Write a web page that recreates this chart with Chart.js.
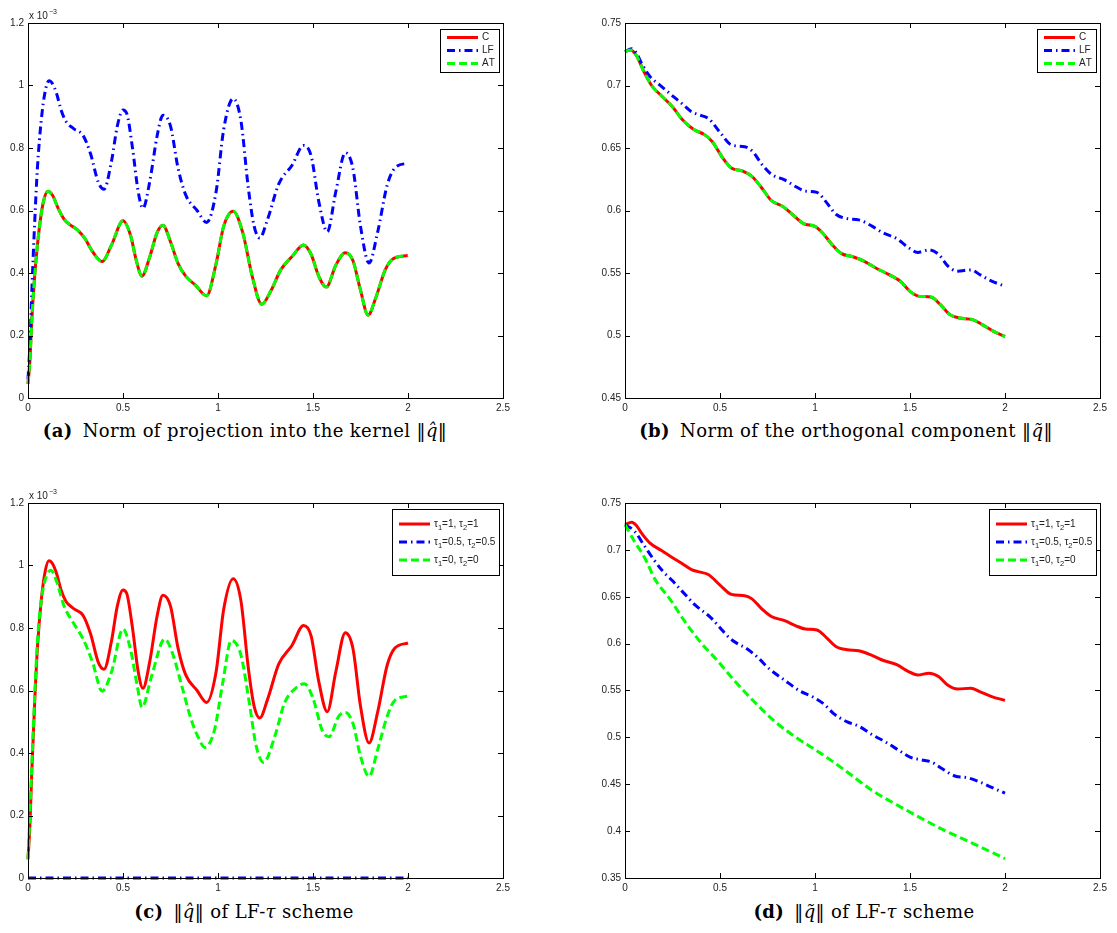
<!DOCTYPE html>
<html>
<head>
<meta charset="utf-8">
<script src="https://cdn.jsdelivr.net/npm/chart.js@4.4.1/dist/chart.umd.min.js"></script>
<style>
  body { margin: 0; background: #fff; width: 1117px; height: 933px; position: relative; overflow: hidden; }
  canvas { position: absolute; }
  .cap { position: absolute; font-family: "DejaVu Serif", serif; font-size: 18px; letter-spacing: 0.4px; color: #000; white-space: nowrap; transform: translateX(-50%); }
  .cap b { margin-right: 10px; }
</style>
</head>
<body>
<canvas id="panelA" width="520" height="420" style="left:0;top:0"></canvas>
<canvas id="panelB" width="520" height="420" style="left:597px;top:0"></canvas>
<canvas id="panelC" width="520" height="420" style="left:0;top:480px"></canvas>
<canvas id="panelD" width="520" height="420" style="left:597px;top:480px"></canvas>

<div class="cap" style="left:245px;top:420px"><b>(a)</b>Norm of projection into the kernel ‖<i>q̂</i>‖</div>
<div class="cap" style="left:846px;top:420px"><b>(b)</b>Norm of the orthogonal component ‖<i>q̃</i>‖</div>
<div class="cap" style="left:244px;top:901px"><b>(c)</b>‖<i>q̂</i>‖ of LF-<i>τ</i> scheme</div>
<div class="cap" style="left:864px;top:901px"><b>(d)</b>‖<i>q̃</i>‖ of LF-<i>τ</i> scheme</div>

<script>
// ── tick labels ──
const timeTicks = [0, 0.5, 1, 1.5, 2, 2.5];
const kernelTicks = [0, 0.2, 0.4, 0.6, 0.8, 1, 1.2];          // x 10^-3
const orthTicks = [0.45, 0.5, 0.55, 0.6, 0.65, 0.7, 0.75];
const tauOrthTicks = [0.35, 0.4, 0.45, 0.5, 0.55, 0.6, 0.65, 0.7, 0.75];

// ── (a) norm of projection into the kernel, x 10^-3 ──
const kernelC_t = [0, 0.01, 0.02, 0.035, 0.055, 0.08, 0.105, 0.13, 0.16, 0.19, 0.22, 0.26, 0.3, 0.34, 0.39, 0.44, 0.5, 0.54, 0.57, 0.6, 0.64, 0.68, 0.71, 0.75, 0.79, 0.83, 0.88, 0.94, 0.99, 1.03, 1.08, 1.13, 1.18, 1.23, 1.28, 1.33, 1.39, 1.45, 1.49, 1.53, 1.57, 1.62, 1.67, 1.71, 1.75, 1.79, 1.83, 1.88, 1.92, 2.0];
const kernelC = [0.045, 0.12, 0.25, 0.39, 0.52, 0.625, 0.662, 0.648, 0.605, 0.572, 0.555, 0.538, 0.51, 0.468, 0.437, 0.49, 0.567, 0.52, 0.44, 0.39, 0.45, 0.53, 0.553, 0.5, 0.43, 0.39, 0.362, 0.327, 0.43, 0.55, 0.598, 0.53, 0.39, 0.3, 0.345, 0.41, 0.453, 0.49, 0.46, 0.39, 0.355, 0.425, 0.465, 0.44, 0.345, 0.265, 0.32, 0.41, 0.445, 0.456];
const kernelAT = kernelC; // AT lies on top of C
const kernelLF_t = [0, 0.01, 0.02, 0.035, 0.05, 0.07, 0.09, 0.11, 0.13, 0.15, 0.175, 0.2, 0.24, 0.29, 0.33, 0.37, 0.4, 0.44, 0.47, 0.5, 0.52, 0.55, 0.58, 0.605, 0.64, 0.68, 0.71, 0.75, 0.79, 0.83, 0.89, 0.94, 0.99, 1.03, 1.08, 1.12, 1.16, 1.19, 1.22, 1.26, 1.32, 1.39, 1.45, 1.49, 1.53, 1.575, 1.62, 1.67, 1.71, 1.75, 1.795, 1.84, 1.89, 1.93, 2.0];
const kernelLF = [0.06, 0.17, 0.34, 0.56, 0.74, 0.89, 0.98, 1.015, 1.005, 0.975, 0.92, 0.885, 0.862, 0.84, 0.78, 0.69, 0.668, 0.76, 0.87, 0.922, 0.91, 0.8, 0.66, 0.607, 0.69, 0.84, 0.905, 0.87, 0.735, 0.65, 0.6, 0.562, 0.66, 0.86, 0.958, 0.89, 0.67, 0.55, 0.512, 0.57, 0.685, 0.745, 0.808, 0.775, 0.63, 0.532, 0.66, 0.785, 0.735, 0.55, 0.432, 0.53, 0.68, 0.735, 0.752];

// ── (b) norm of the orthogonal component ──
const orthC_t = [0, 0.03, 0.06, 0.1, 0.14, 0.19, 0.25, 0.3, 0.36, 0.42, 0.46, 0.51, 0.56, 0.62, 0.67, 0.72, 0.77, 0.83, 0.88, 0.94, 1.0, 1.04, 1.09, 1.14, 1.2, 1.26, 1.32, 1.39, 1.45, 1.5, 1.55, 1.61, 1.66, 1.71, 1.76, 1.83, 1.88, 1.94, 2.0];
const orthC = [0.727, 0.7285, 0.724, 0.711, 0.7, 0.692, 0.683, 0.673, 0.665, 0.6605, 0.655, 0.643, 0.634, 0.6315, 0.627, 0.618, 0.608, 0.6033, 0.597, 0.5895, 0.5873, 0.582, 0.5727, 0.5655, 0.563, 0.5593, 0.554, 0.5487, 0.5433, 0.5353, 0.5313, 0.5308, 0.5247, 0.5167, 0.514, 0.5127, 0.5087, 0.5033, 0.4993];
const orthAT = orthC; // AT lies on top of C
const orthLF_t = [0, 0.035, 0.06, 0.09, 0.13, 0.19, 0.24, 0.3, 0.35, 0.39, 0.44, 0.5, 0.56, 0.63, 0.67, 0.72, 0.77, 0.84, 0.9, 0.95, 1.01, 1.06, 1.11, 1.17, 1.23, 1.3, 1.36, 1.43, 1.49, 1.54, 1.6, 1.65, 1.7, 1.75, 1.82, 1.87, 1.93, 2.0];
const orthLF = [0.727, 0.7295, 0.726, 0.717, 0.7075, 0.6995, 0.693, 0.6855, 0.679, 0.6765, 0.6735, 0.6625, 0.6525, 0.651, 0.6475, 0.637, 0.629, 0.6245, 0.619, 0.6155, 0.6145, 0.6065, 0.597, 0.5935, 0.5925, 0.5875, 0.582, 0.5775, 0.5705, 0.5665, 0.5685, 0.565, 0.5555, 0.5515, 0.5525, 0.5485, 0.5435, 0.5395];

// ── (c) LF-tau, kernel part (tau=1 is the LF curve of (a)) ──
const tauHalfKernel_t = [0, 0.5, 1, 1.5, 2];
const tauHalfKernel = [0, 0, 0, 0, 0];
const tauZeroKernel_t = [0, 0.01, 0.02, 0.035, 0.05, 0.075, 0.1, 0.12, 0.15, 0.19, 0.24, 0.29, 0.34, 0.39, 0.44, 0.5, 0.54, 0.575, 0.6, 0.65, 0.72, 0.76, 0.81, 0.86, 0.9, 0.93, 0.98, 1.025, 1.07, 1.12, 1.165, 1.2, 1.24, 1.3, 1.35, 1.41, 1.455, 1.5, 1.55, 1.585, 1.635, 1.67, 1.71, 1.75, 1.795, 1.84, 1.89, 1.93, 2.0];
const tauZeroKernel = [0.06, 0.2, 0.36, 0.58, 0.76, 0.91, 0.97, 0.985, 0.95, 0.87, 0.815, 0.765, 0.69, 0.598, 0.66, 0.797, 0.73, 0.615, 0.546, 0.645, 0.765, 0.72, 0.613, 0.505, 0.445, 0.418, 0.47, 0.625, 0.76, 0.715, 0.56, 0.425, 0.37, 0.455, 0.56, 0.608, 0.622, 0.575, 0.47, 0.452, 0.517, 0.53, 0.495, 0.39, 0.325, 0.41, 0.517, 0.568, 0.582];

// ── (d) LF-tau, orthogonal part (tau=1 is the LF curve of (b)) ──
const tauHalfOrth_t = [0, 0.05, 0.1, 0.15, 0.2, 0.25, 0.3, 0.37, 0.45, 0.5, 0.55, 0.6, 0.63, 0.7, 0.76, 0.84, 0.92, 0.99, 1.05, 1.1, 1.17, 1.23, 1.3, 1.38, 1.45, 1.5, 1.56, 1.61, 1.67, 1.74, 1.8, 1.86, 1.92, 2.0];
const tauHalfOrth = [0.727, 0.72, 0.705, 0.69, 0.677, 0.667, 0.656, 0.641, 0.628, 0.617, 0.606, 0.599, 0.596, 0.585, 0.573, 0.561, 0.5495, 0.543, 0.535, 0.525, 0.5165, 0.512, 0.503, 0.494, 0.485, 0.479, 0.476, 0.474, 0.4665, 0.4585, 0.457, 0.453, 0.4475, 0.4405];
const tauZeroOrth_t = [0, 0.05, 0.1, 0.16, 0.24, 0.31, 0.4, 0.49, 0.58, 0.68, 0.79, 0.9, 1.03, 1.15, 1.3, 1.48, 1.66, 1.83, 2.0];
const tauZeroOrth = [0.727, 0.709, 0.693, 0.668, 0.6465, 0.625, 0.601, 0.581, 0.5595, 0.538, 0.5167, 0.5, 0.483, 0.466, 0.4435, 0.4225, 0.403, 0.387, 0.3707];

// ── matlab-ish look ──
Chart.defaults.font.family = "'Liberation Sans', Arial, sans-serif";
Chart.defaults.font.size = 10;
Chart.defaults.color = '#222';

const RED = '#ff0000', BLUE = '#0000ff', GREEN = '#00ff00';
const SOLID = [], DASHDOT = [8, 4, 1.5, 4], DASHED = [8, 4];

const pts = (t, v) => t.map((x, i) => ({ x, y: v[i] }));

// draws "a_1" with the char after '_' as a subscript, returns the width
function richText(ctx, text, x, y, size, draw) {
  let w = 0;
  for (let i = 0; i < text.length; i++) {
    let ch = text[i], sub = false;
    if (ch === '_' && i + 1 < text.length) { ch = text[++i]; sub = true; }
    const fs = sub ? size * 0.75 : size;
    ctx.font = fs + "px 'Liberation Sans', Arial, sans-serif";
    if (draw) ctx.fillText(ch, x + w, y + (sub ? size * 0.38 : 0));
    w += ctx.measureText(ch).width;
  }
  return w;
}

// box, inward ticks on all sides, exponent label
const matlabFrame = {
  id: 'matlabFrame',
  afterDatasetsDraw(chart, args, opts) {
    const { ctx, chartArea: a, scales: { x, y } } = chart;
    ctx.save();
    ctx.strokeStyle = '#000';
    ctx.lineWidth = 1;
    ctx.beginPath();
    x.ticks.forEach(t => {
      const px = Math.round(x.getPixelForValue(t.value)) + 0.5;
      ctx.moveTo(px, a.bottom); ctx.lineTo(px, a.bottom - 5);
      ctx.moveTo(px, a.top); ctx.lineTo(px, a.top + 5);
    });
    y.ticks.forEach(t => {
      const py = Math.round(y.getPixelForValue(t.value)) + 0.5;
      ctx.moveTo(a.left, py); ctx.lineTo(a.left + 5, py);
      ctx.moveTo(a.right, py); ctx.lineTo(a.right - 5, py);
    });
    ctx.stroke();
    ctx.strokeRect(Math.round(a.left) + 0.5, Math.round(a.top) + 0.5,
                   Math.round(a.right - a.left), Math.round(a.bottom - a.top));
    if (opts.expo) {
      ctx.fillStyle = '#222';
      ctx.textBaseline = 'alphabetic';
      ctx.font = "10px 'Liberation Sans', Arial, sans-serif";
      ctx.fillText('x 10', a.left + 1, a.top - 4);
      const w = ctx.measureText('x 10').width;
      ctx.font = "7px 'Liberation Sans', Arial, sans-serif";
      ctx.fillText('\u22123', a.left + 2 + w, a.top - 9);
    }
    ctx.restore();
  }
};

// legend box inside the top-right corner
const boxLegend = {
  id: 'boxLegend',
  afterDraw(chart, args, opts) {
    const { ctx, chartArea: a } = chart;
    const items = opts.entries.map(i => chart.data.datasets[i]);
    ctx.save();
    ctx.textBaseline = 'middle';
    const textW = Math.max(...items.map(d => richText(ctx, d.label, 0, 0, 10, false)));
    const w = Math.round(7 + 31 + 4 + textW + 4);
    const h = items.length * opts.rowH + opts.padY * 2;
    const left = Math.round(a.right - 4 - w), top = Math.round(a.top + 6);
    ctx.fillStyle = '#fff';
    ctx.fillRect(left, top, w, h);
    ctx.strokeStyle = '#000';
    ctx.lineWidth = 1;
    ctx.strokeRect(left + 0.5, top + 0.5, w, h);
    items.forEach((d, i) => {
      const cy = top + opts.padY + opts.rowH * (i + 0.5);
      ctx.beginPath();
      ctx.setLineDash(d.borderDash || []);
      ctx.strokeStyle = d.borderColor;
      ctx.lineWidth = d.borderWidth;
      ctx.moveTo(left + 7, cy);
      ctx.lineTo(left + 38, cy);
      ctx.stroke();
      ctx.setLineDash([]);
      ctx.fillStyle = '#222';
      richText(ctx, d.label, left + 42, cy, 10, true);
    });
    ctx.restore();
  }
};

function series(label, t, v, color, dash, order) {
  return {
    label, data: pts(t, v),
    borderColor: color, backgroundColor: color, borderWidth: 3, borderDash: dash,
    borderCapStyle: 'butt', pointRadius: 0, showLine: true,
    cubicInterpolationMode: 'monotone', clip: false, order
  };
}

function makePanel(id, datasets, yMin, yMax, yTicks, legend, expo) {
  new Chart(document.getElementById(id), {
    type: 'scatter',
    data: { datasets },
    options: {
      responsive: false,
      animation: false,
      events: [],
      layout: { padding: { top: 23, right: 17, left: 0, bottom: 0 } },
      plugins: {
        legend: { display: false },
        tooltip: { enabled: false },
        boxLegend: legend,
        matlabFrame: { expo }
      },
      scales: {
        x: {
          type: 'linear', min: 0, max: 2.5,
          afterBuildTicks: s => { s.ticks = timeTicks.map(value => ({ value })); },
          afterFit: s => { s.height = 22; },
          grid: { display: false, drawTicks: false },
          border: { display: false },
          ticks: { padding: 4, maxRotation: 0, callback: v => String(+v.toFixed(3)) }
        },
        y: {
          type: 'linear', min: yMin, max: yMax,
          afterBuildTicks: s => { s.ticks = yTicks.map(value => ({ value })); },
          afterFit: s => { s.width = 28; },
          grid: { display: false, drawTicks: false },
          border: { display: false },
          ticks: { padding: 4, callback: v => String(+v.toFixed(3)) }
        }
      }
    },
    plugins: [matlabFrame, boxLegend]
  });
}

makePanel('panelA', [
  series('C', kernelC_t, kernelC, RED, SOLID, 2),
  series('LF', kernelLF_t, kernelLF, BLUE, DASHDOT, 1),
  series('AT', kernelC_t, kernelAT, GREEN, DASHED, 0)
], 0, 1.2, kernelTicks, { entries: [0, 1, 2], rowH: 13, padY: 2 }, true);

makePanel('panelB', [
  series('C', orthC_t, orthC, RED, SOLID, 2),
  series('LF', orthLF_t, orthLF, BLUE, DASHDOT, 1),
  series('AT', orthC_t, orthAT, GREEN, DASHED, 0)
], 0.45, 0.75, orthTicks, { entries: [0, 1, 2], rowH: 13, padY: 2 }, false);

makePanel('panelC', [
  series('τ_1=1, τ_2=1', kernelLF_t, kernelLF, RED, SOLID, 2),
  series('τ_1=0.5, τ_2=0.5', tauHalfKernel_t, tauHalfKernel, BLUE, DASHDOT, 1),
  series('τ_1=0, τ_2=0', tauZeroKernel_t, tauZeroKernel, GREEN, DASHED, 0)
], 0, 1.2, kernelTicks, { entries: [0, 1, 2], rowH: 18, padY: 6 }, true);

makePanel('panelD', [
  series('τ_1=1, τ_2=1', orthLF_t, orthLF, RED, SOLID, 2),
  series('τ_1=0.5, τ_2=0.5', tauHalfOrth_t, tauHalfOrth, BLUE, DASHDOT, 1),
  series('τ_1=0, τ_2=0', tauZeroOrth_t, tauZeroOrth, GREEN, DASHED, 0)
], 0.35, 0.75, tauOrthTicks, { entries: [0, 1, 2], rowH: 18, padY: 6 }, false);
</script>
</body>
</html>
